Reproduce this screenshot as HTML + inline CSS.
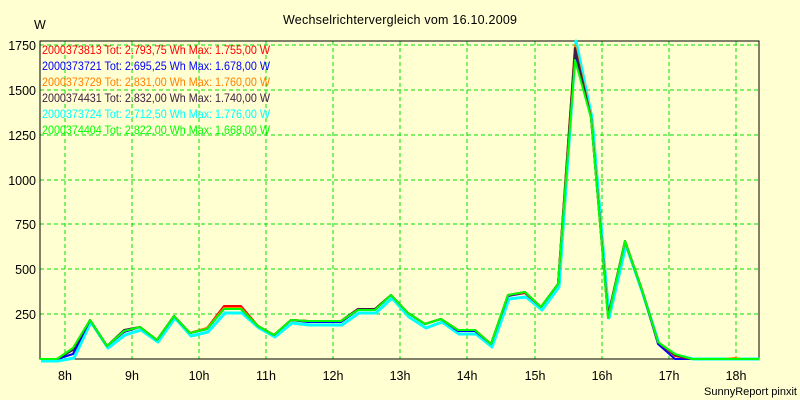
<!DOCTYPE html>
<html><head><meta charset="utf-8"><style>
html,body{margin:0;padding:0;background:#ffffd2;}
svg{display:block;font-family:"Liberation Sans",Arial,sans-serif;}
</style></head><body>
<svg width="800" height="400" viewBox="0 0 800 400">
<rect width="800" height="400" fill="#ffffd2"/>
<text x="400" y="24" font-size="12.5" text-anchor="middle" fill="#000" textLength="234">Wechselrichtervergleich vom 16.10.2009</text>
<text x="34" y="29" font-size="12.5" fill="#000">W</text>
<g stroke="#00e000" stroke-dasharray="4,3" stroke-width="1">
<line x1="40" y1="45" x2="759" y2="45"/><line x1="40" y1="90" x2="759" y2="90"/>
<line x1="40" y1="135" x2="759" y2="135"/><line x1="40" y1="180" x2="759" y2="180"/>
<line x1="40" y1="224" x2="759" y2="224"/><line x1="40" y1="269" x2="759" y2="269"/>
<line x1="40" y1="314" x2="759" y2="314"/>
<line x1="65" y1="41" x2="65" y2="359"/><line x1="132" y1="41" x2="132" y2="359"/>
<line x1="199" y1="41" x2="199" y2="359"/><line x1="266" y1="41" x2="266" y2="359"/>
<line x1="333" y1="41" x2="333" y2="359"/><line x1="400" y1="41" x2="400" y2="359"/>
<line x1="467" y1="41" x2="467" y2="359"/><line x1="535" y1="41" x2="535" y2="359"/>
<line x1="602" y1="41" x2="602" y2="359"/><line x1="669" y1="41" x2="669" y2="359"/>
<line x1="736" y1="41" x2="736" y2="359"/>
</g>
<path d="M40,41 V359 H759 V41 Z" fill="none" stroke="#000" stroke-width="1"/>
<g font-size="12.5" text-anchor="end" fill="#000">
<text x="36" y="50">1750</text><text x="36" y="95">1500</text><text x="36" y="140">1250</text>
<text x="36" y="185">1000</text><text x="36" y="229">750</text><text x="36" y="274">500</text>
<text x="36" y="319">250</text>
</g>
<g font-size="12.5" text-anchor="middle" fill="#000">
<text x="65" y="380">8h</text><text x="132" y="380">9h</text><text x="199" y="380">10h</text>
<text x="266" y="380">11h</text><text x="333" y="380">12h</text><text x="400" y="380">13h</text>
<text x="467" y="380">14h</text><text x="535" y="380">15h</text><text x="602" y="380">16h</text>
<text x="669" y="380">17h</text><text x="736" y="380">18h</text>
</g>
<text x="797" y="395" font-size="11" text-anchor="end" fill="#000">SunnyReport pinxit</text>
<g fill="none" stroke-linejoin="round">
<polyline stroke="#00ffff" stroke-width="3" transform="translate(1,2)" points="40,359 57,359 73,356 90,320 107,346 124,333 140,328 157,340 174,316 190,334 207,330 224,311 241,311 258,326 274,335 291,321 308,323 325,323 341,323 358,311 375,311 391,296 408,315 425,326 441,320 458,332 475,332 491,345 508,297 525,295 541,308 558,285 575,39 591,116 608,316 625,243 642,292 658,342 675,353 692,357 759,357"/>
<polyline stroke="#0000ff" stroke-width="2" points="40,359 57,359 73,354 90,320 107,346 124,332 140,327 157,340 174,316 190,333 207,329 224,309 241,309 258,326 274,335 291,320 308,322 325,322 341,322 358,310 375,310 391,295 408,313 425,324 441,319 458,331 475,331 491,344 508,296 525,293 541,307 558,284 575,55 591,117 608,316 625,241 642,290 658,344 675,359 692,359 759,359"/>
<polyline stroke="#ff0000" stroke-width="2" points="40,359 57,359 73,349 90,320 107,346 124,331 140,327 157,340 174,316 190,333 207,328 224,306 241,306 258,326 274,335 291,320 308,321 325,321 341,321 358,309 375,309 391,295 408,313 425,324 441,319 458,330 475,330 491,344 508,295 525,293 541,307 558,284 575,47 591,117 608,316 625,241 642,290 658,342 675,356 692,359 759,359"/>
<polyline stroke="#ff8000" stroke-width="2" points="40,359 57,359 73,348 90,320 107,346 124,331 140,327 157,340 174,316 190,333 207,328 224,308 241,308 258,326 274,335 291,320 308,321 325,321 341,321 358,309 375,309 391,295 408,313 425,324 441,319 458,330 475,330 491,344 508,295 525,292 541,307 558,284 575,45 591,117 608,316 625,241 642,290 658,342 675,355 692,359 725,359 735,358 742,359 759,359"/>
<polyline stroke="#402040" stroke-width="2" points="40,359 57,359 73,350 90,320 107,346 124,330 140,327 157,340 174,316 190,333 207,329 224,309 241,309 258,326 274,335 291,320 308,321 325,321 341,321 358,309 375,309 391,295 408,313 425,324 441,319 458,330 475,330 491,344 508,295 525,292 541,307 558,284 575,48 591,118 608,316 625,241 642,290 658,342 675,355 692,359 759,359"/>
<polyline stroke="#00ff00" stroke-width="2" points="40,359 57,359 73,348 90,320 107,346 124,331 140,327 157,340 174,316 190,333 207,329 224,309 241,309 258,326 274,335 291,320 308,321 325,321 341,321 358,310 375,310 391,295 408,313 425,324 441,319 458,330 475,330 491,344 508,295 525,292 541,307 558,284 575,60 591,118 608,318 625,241 642,290 658,342 675,354 692,359 759,359"/>
</g>
<g font-size="12" font-family="Liberation Sans,Arial,sans-serif">
<text x="42" y="54" fill="#ff0000" textLength="228" lengthAdjust="spacingAndGlyphs">2000373813 Tot: 2.793,75 Wh Max: 1.755,00 W</text>
<text x="42" y="70" fill="#0000ff" textLength="228" lengthAdjust="spacingAndGlyphs">2000373721 Tot: 2.695,25 Wh Max: 1.678,00 W</text>
<text x="42" y="86" fill="#ff8000" textLength="228" lengthAdjust="spacingAndGlyphs">2000373729 Tot: 2.831,00 Wh Max: 1.760,00 W</text>
<text x="42" y="102" fill="#402040" textLength="228" lengthAdjust="spacingAndGlyphs">2000374431 Tot: 2.832,00 Wh Max: 1.740,00 W</text>
<text x="42" y="118" fill="#00ffff" textLength="228" lengthAdjust="spacingAndGlyphs">2000373724 Tot: 2.712,50 Wh Max: 1.776,00 W</text>
<text x="42" y="134" fill="#00ff00" textLength="228" lengthAdjust="spacingAndGlyphs">2000374404 Tot: 2.822,00 Wh Max: 1.668,00 W</text>
</g>
</svg>
</body></html>
